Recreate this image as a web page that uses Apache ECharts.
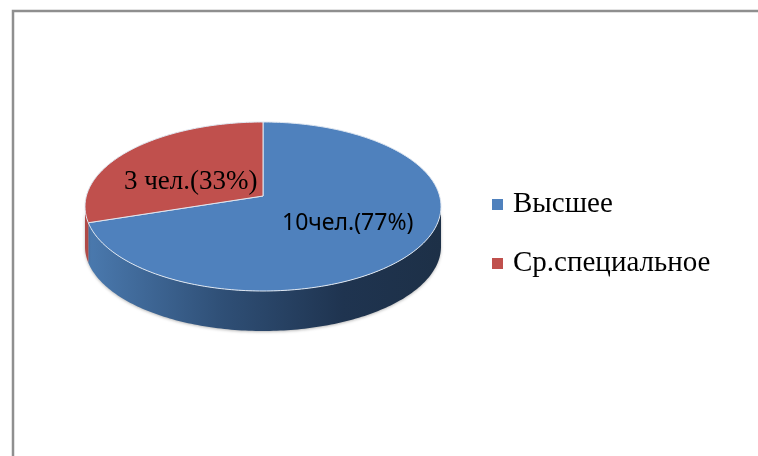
<!DOCTYPE html>
<html><head><meta charset="utf-8">
<style>html,body{margin:0;padding:0;background:#fff}#c{width:758px;height:456px}</style>
<script src="https://cdn.jsdelivr.net/npm/echarts@6/dist/echarts.min.js"></script>
</head><body><div id="c"></div>
<script>
var categories = ['Высшее', 'Ср.специальное'];
var shares = [77, 33];
var sliceLabels = ['10чел.(77%)', '3 чел.(33%)'];
var colors = ['#4f81bd', '#c0504d'];

var total = shares.reduce(function (a, b) { return a + b; }, 0);
var chart = echarts.init(document.getElementById('c'), null, { renderer: 'canvas' });

/* projected disc: far edge is compressed, as in a tilted perspective view */
var CX = 263, DEPTH = 40, TOP = 122, APEX = 196, BOTTOM = 291, RX = 178;
var C = (2 * APEX - (TOP + BOTTOM)) / (BOTTOM - TOP) * -1;
var A = TOP * (1 + C) - APEX;
var R = RX * Math.sqrt(1 - C * C);
function project(frac) {
  var th = frac * 2 * Math.PI;       // clockwise from north
  var u = Math.sin(th), v = Math.cos(th), d = 1 + C * v;
  return [CX + R * u / d, (A * v + APEX) / d];
}
function down(p) { return [p[0], p[1] + DEPTH]; }

function arcPoints(f0, f1) {
  var n = Math.max(2, Math.ceil(Math.abs(f1 - f0) * 360)), pts = [];
  for (var i = 0; i <= n; i++) pts.push(project(f0 + (f1 - f0) * i / n));
  return pts;
}
/* fractions of the rim's left and right silhouette points */
var fRight = Math.acos(-C) / (2 * Math.PI), fLeft = 1 - fRight;

function renderSlice(isWall, idx) {
  return function (params, api) {
    var f0 = api.value(0), f1 = api.value(1), children = [];
    if (isWall) {
      var a = Math.max(f0, fRight), b = Math.min(f1, fLeft);
      if (b > a) {
        var rim = arcPoints(a, b);
        var lower = rim.map(down).reverse();
        children.push({
          type: 'polygon',
          shape: { points: rim.concat(lower) },
          style: {
            fill: idx === 0 ? new echarts.graphic.LinearGradient(1, 0, 0, 0, [
              { offset: 0, color: '#1d3047' },
              { offset: 0.28, color: '#1f3450' },
              { offset: 0.62, color: '#2f4f76' },
              { offset: 1, color: '#4a79ae' }
            ]) : '#b04a47',
            shadowColor: 'rgba(0,0,0,0.28)', shadowBlur: 3, shadowOffsetY: 1
          }
        });
      }
    } else {
      var pts = [[CX, APEX]].concat(arcPoints(f0, f1));
      children.push({
        type: 'polygon',
        shape: { points: pts },
        style: { fill: colors[idx], stroke: '#dfe7f1', lineWidth: 1, lineJoin: 'round' }
      });
    }
    return { type: 'group', children: children };
  };
}

var running = 0, spans = shares.map(function (s) {
  var span = [running / total, (running + s) / total];
  running += s;
  return span;
});

var series = [];
categories.forEach(function (name, i) {
  series.push({
    type: 'custom', name: name + ' ', coordinateSystem: 'none', silent: true, z: 1,
    animation: false, clip: false,
    renderItem: renderSlice(true, i), data: [spans[i]], itemStyle: { color: colors[i] }
  });
});
categories.forEach(function (name, i) {
  series.push({
    type: 'custom', name: name, coordinateSystem: 'none', silent: true, z: 2,
    animation: false, clip: false,
    renderItem: renderSlice(false, i), data: [spans[i]], itemStyle: { color: colors[i] }
  });
});

chart.setOption({
  animation: false,
  backgroundColor: '#fff',
  legend: {
    data: categories, orient: 'vertical', left: 487, top: 185,
    icon: 'rect', itemWidth: 11, itemHeight: 11, itemGap: 30, selectedMode: false,
    textStyle: { fontFamily: 'Liberation Serif', fontSize: 29, color: '#000', padding: [0, 0, 0, 5] }
  },
  graphic: [
    { type: 'rect', z: 0, shape: { x: 13, y: 11, width: 800, height: 500 },
      style: { fill: '#fff', stroke: '#8f8f8f', lineWidth: 2.5 } },
    { type: 'text', z: 10, left: 124, top: 168,
      style: { text: sliceLabels[1], fontFamily: 'Liberation Serif', fontSize: 27, fill: '#000' } },
    { type: 'text', z: 10, left: 282, top: 212,
      style: { text: sliceLabels[0], fontFamily: 'Noto Sans', fontSize: 23, fill: '#000' } }
  ],
  series: series
});
</script></body></html>
